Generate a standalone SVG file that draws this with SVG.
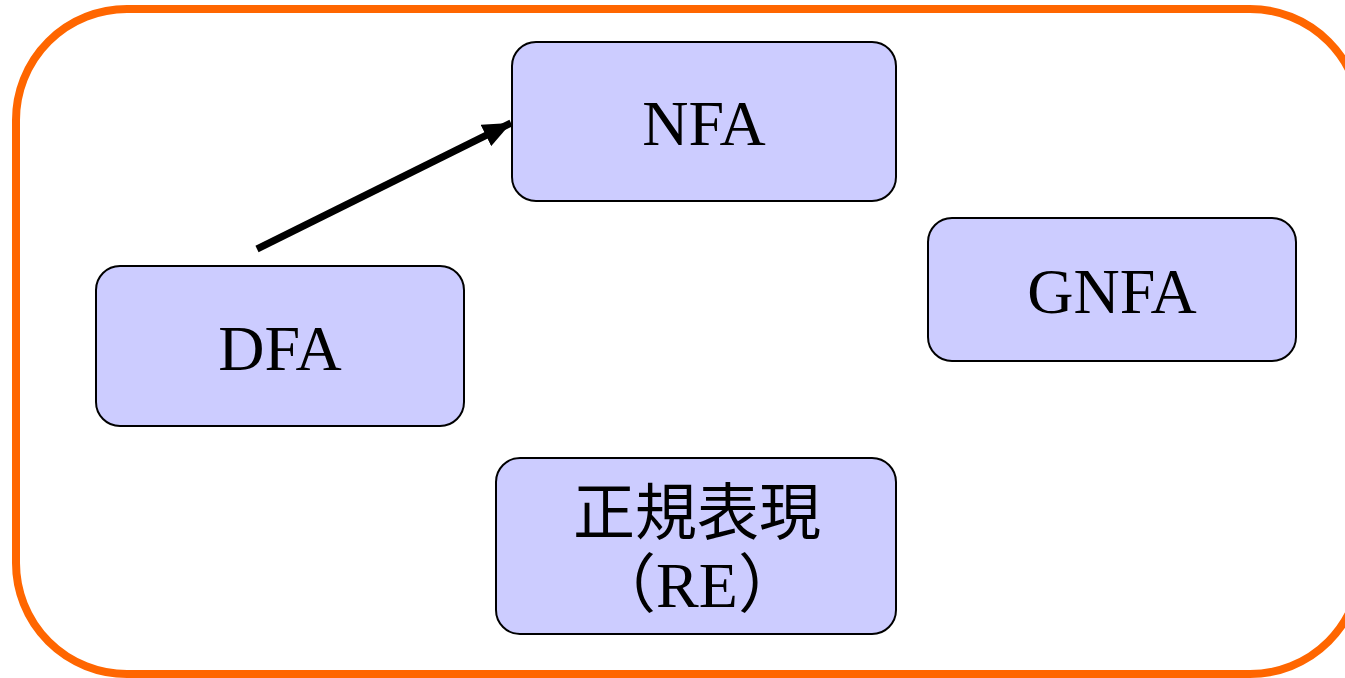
<svg xmlns="http://www.w3.org/2000/svg" width="1345" height="678" viewBox="0 0 1345 678">
<style>
.node rect{fill:#CCCCFF;stroke:#000;stroke-width:2}
.lbl{font-family:"Liberation Serif","Noto Sans CJK JP",serif;font-size:64px;fill:#000;text-anchor:middle}
.cjk{font-family:"Noto Sans CJK JP",sans-serif;font-size:62px;fill:#000;text-anchor:middle}
</style>
<defs>
<marker id="ah" viewBox="0 0 10 10" refX="10" refY="5" markerWidth="4" markerHeight="3.4" orient="auto" markerUnits="strokeWidth" preserveAspectRatio="none">
<path d="M0,0 L10,5 L0,10 z" fill="#000"/>
</marker>
</defs>
<rect x="0" y="0" width="1345" height="678" fill="#fff"/>
<rect id="frame" x="16" y="9" width="1345" height="665" rx="111" ry="111" fill="none" stroke="#FF6600" stroke-width="8"/>
<g id="connectors">
<line x1="257" y1="249" x2="511" y2="123" stroke="#000" stroke-width="7" marker-end="url(#ah)"/>
</g>
<g id="nfa" class="node">
<rect x="512" y="42" width="384" height="159" rx="24"/>
<text class="lbl" x="704" y="145">NFA</text>
</g>
<g id="dfa" class="node">
<rect x="96" y="266" width="368" height="160" rx="24"/>
<text class="lbl" x="280" y="370">DFA</text>
</g>
<g id="gnfa" class="node">
<rect x="928" y="218" width="368" height="143" rx="24"/>
<text class="lbl" x="1112" y="313">GNFA</text>
</g>
<g id="re" class="node">
<rect x="496" y="458" width="400" height="176" rx="24"/>
<text class="cjk" x="697" y="535">正規表現</text>
<text class="lbl" x="697" y="607">（RE）</text>
</g>
</svg>
